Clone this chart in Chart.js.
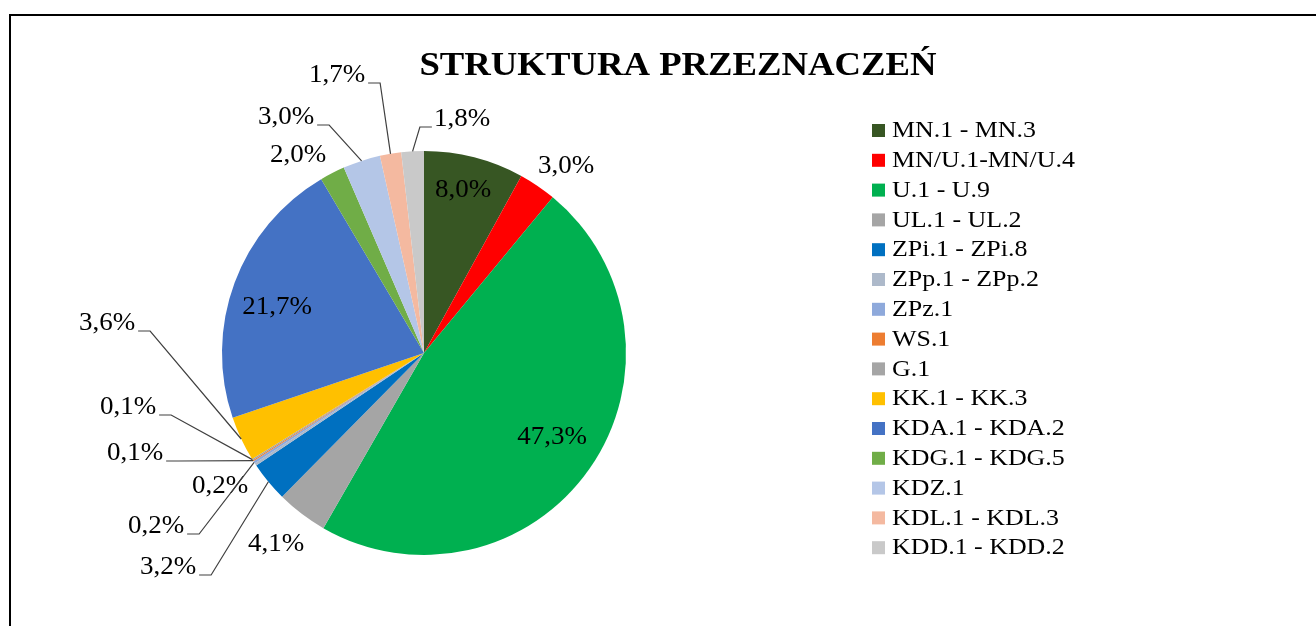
<!DOCTYPE html>
<html>
<head>
<meta charset="utf-8">
<script src="https://cdn.jsdelivr.net/npm/chart.js@4.4.1/dist/chart.umd.min.js"></script>
<style>
  html, body { margin: 0; padding: 0; background: #fff; }
  #wrap { width: 1316px; height: 626px; position: relative; }
</style>
</head>
<body>
<div id="wrap"><canvas id="c" width="1316" height="626"></canvas></div>
<script>
// ---- data ----
const title = 'STRUKTURA PRZEZNACZEŃ';
const categories = ['MN.1 - MN.3', 'MN/U.1-MN/U.4', 'U.1 - U.9', 'UL.1 - UL.2', 'ZPi.1 - ZPi.8',
  'ZPp.1 - ZPp.2', 'ZPz.1', 'WS.1', 'G.1', 'KK.1 - KK.3', 'KDA.1 - KDA.2', 'KDG.1 - KDG.5',
  'KDZ.1', 'KDL.1 - KDL.3', 'KDD.1 - KDD.2'];
const shares = [8.0, 3.0, 47.3, 4.1, 3.2, 0.2, 0.2, 0.1, 0.1, 3.6, 21.7, 2.0, 3.0, 1.7, 1.8];
const colors = ['#375623', '#FF0000', '#00B050', '#A5A5A5', '#0070C0', '#ADB9CA', '#8EA9DB',
  '#ED7D31', '#A5A5A5', '#FFC000', '#4472C4', '#70AD47', '#B4C6E7', '#F4B9A0', '#C9C9C9'];

// ---- label layout (text centre offsets from pie centre, leader side) ----
const labelLayout = [
  { dx: 39, dy: -163 }, { dx: 142, dy: -187 }, { dx: 128, dy: 84 }, { dx: -148, dy: 191 },
  { dx: -256, dy: 214, lead: 'r' }, { dx: -204, dy: 133 }, { dx: -268, dy: 173, lead: 'r' },
  { dx: -289, dy: 100, lead: 'r' }, { dx: -296, dy: 54, lead: 'r' }, { dx: -317, dy: -30, lead: 'r' },
  { dx: -147, dy: -46 }, { dx: -126, dy: -198 }, { dx: -138, dy: -236, lead: 'r' },
  { dx: -87, dy: -278, lead: 'r' }, { dx: 38, dy: -234, lead: 'l' }
];

const SERIF = '"Liberation Serif", "Times New Roman", serif';
const SX = 1.08;

function stretchText(ctx, txt, x, y) {
  ctx.save();
  ctx.translate(x, y);
  ctx.scale(SX, 1);
  ctx.fillText(txt, 0, 0);
  ctx.restore();
}

const decor = {
  id: 'decor',
  beforeDraw(chart) {
    const ctx = chart.ctx;
    ctx.save();
    ctx.fillStyle = '#fff';
    ctx.fillRect(0, 0, chart.width, chart.height);
    ctx.fillStyle = '#000';
    ctx.fillRect(9, 14, chart.width, 2);
    ctx.fillRect(9, 14, 2, chart.height);
    // title
    ctx.font = 'bold 34px ' + SERIF;
    ctx.textAlign = 'center';
    ctx.textBaseline = 'alphabetic';
    stretchText(ctx, title, 678, 75);
    ctx.restore();
  },
  afterDraw(chart) {
    const ctx = chart.ctx;
    const meta = chart.getDatasetMeta(0);
    const ds = chart.data.datasets[0];
    ctx.save();
    // data labels
    ctx.font = '25px ' + SERIF;
    ctx.fillStyle = '#000';
    ctx.textAlign = 'center';
    ctx.textBaseline = 'middle';
    meta.data.forEach((arc, i) => {
      const L = labelLayout[i];
      const cx = arc.x, cy = arc.y;
      const tx = cx + L.dx, ty = cy + L.dy;
      const txt = ds.data[i].toFixed(1).replace('.', ',') + '%';
      ctx.fillStyle = '#000';
      stretchText(ctx, txt, tx, ty);
      if (L.lead) {
        const w = ctx.measureText(txt).width * SX;
        const mid = (arc.startAngle + arc.endAngle) / 2;
        const px = cx + Math.cos(mid) * arc.outerRadius;
        const py = cy + Math.sin(mid) * arc.outerRadius;
        const ly = ty + 8;
        let x0, x1;
        if (L.lead === 'r') { x0 = tx + w / 2 + 3; x1 = x0 + 12; }
        else { x0 = tx - w / 2 - 2; x1 = x0 - 12; }
        ctx.strokeStyle = '#404040';
        ctx.lineWidth = 1.2;
        ctx.beginPath();
        ctx.moveTo(x0, ly);
        ctx.lineTo(x1, ly);
        ctx.lineTo(px, py);
        ctx.stroke();
      }
    });
    // legend
    ctx.font = '24px ' + SERIF;
    ctx.textAlign = 'left';
    ctx.textBaseline = 'middle';
    chart.data.labels.forEach((lab, i) => {
      const y = 130 + i * 29.8;
      ctx.fillStyle = ds.backgroundColor[i];
      ctx.fillRect(872, y - 6, 13, 13);
      ctx.fillStyle = '#000';
      stretchText(ctx, lab, 892, y + 1);
    });
    ctx.restore();
  }
};

new Chart(document.getElementById('c'), {
  type: 'pie',
  data: {
    labels: categories,
    datasets: [{ data: shares, backgroundColor: colors, borderWidth: 0 }]
  },
  options: {
    responsive: false,
    animation: false,
    layout: { padding: { left: 222, right: 690, top: 151, bottom: 71 } },
    plugins: { legend: { display: false }, tooltip: { enabled: false }, title: { display: false } }
  },
  plugins: [decor]
});
</script>
</body>
</html>
